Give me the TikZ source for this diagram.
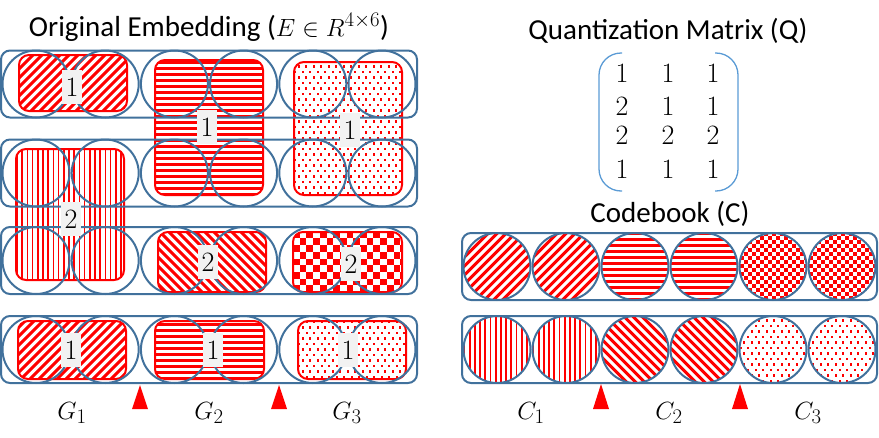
\documentclass[tikz,border=0pt]{standalone}
\usepackage{fontspec}
\usepackage{amsmath}
\newfontfamily\calib{Carlito}
\definecolor{blu}{HTML}{41719C}
\definecolor{brkcol}{HTML}{5B9BD5}
\definecolor{lblgray}{HTML}{F2F2F2}
\tikzset{
cell/.style={circle,draw=blu,line width=2pt,minimum size=67pt,inner sep=0pt},
rowbox/.style={draw=blu,line width=2pt,rounded corners=9pt,minimum height=67pt,inner sep=0pt},
blk/.style={draw=red,line width=2pt,rounded corners=10pt,inner sep=0pt},
idx/.style={fill=lblgray,inner sep=0pt,minimum width=20pt,minimum height=34pt,font=\fontsize{28}{28}\selectfont},
num/.style={anchor=base,inner sep=0pt,font=\fontsize{28}{28}\selectfont},
grp/.style={anchor=base,inner sep=0pt,font=\fontsize{28}{28}\selectfont},
ttl/.style={anchor=base,inner sep=0pt,font=\calib\fontsize{29}{29}\selectfont},
brk/.style={draw=brkcol,line width=1.3pt,rounded corners=22pt},
tri/.style={fill=red},
sq/.style={fill=red,sharp corners},
ne/.style={path picture={\foreach \i in {0,...,30}
  \draw[red,line width=3pt] ([xshift=\i*9pt-150pt]path picture bounding box.south west) -- ++(200pt,200pt);}},
nw/.style={path picture={\foreach \i in {0,...,30}
  \draw[red,line width=3pt] ([xshift=\i*9pt-10pt]path picture bounding box.south west) -- ++(-200pt,200pt);}},
hl/.style={path picture={\foreach \i in {0,...,24}
  \draw[red,line width=3pt] ([yshift=\i*6pt+1pt]path picture bounding box.south west) -- ++(200pt,0pt);}},
vl/.style={path picture={\foreach \i in {0,...,22}
  \draw[red,line width=1.7pt] ([xshift=\i*5.2pt+1pt]path picture bounding box.south west) -- ++(0pt,200pt);}},
dt/.style={path picture={\foreach \j in {0,2,...,24}\foreach \i in {0,...,15}{
  \path[sq] ([xshift=\i*7.5pt,yshift=\j*5.5pt+1pt]path picture bounding box.south west) rectangle ++(2.2pt,2.2pt);
  \path[sq] ([xshift=\i*7.5pt+3.75pt,yshift=\j*5.5pt+6.5pt]path picture bounding box.south west) rectangle ++(2.2pt,2.2pt);}}},
ck/.style={path picture={\foreach \j in {0,2,...,10}\foreach \i in {0,2,...,16}{
  \path[sq] ([xshift=\i*6.7pt,yshift=\j*6.7pt]path picture bounding box.south west) rectangle ++(6.7pt,6.7pt);
  \path[sq] ([xshift=\i*6.7pt+6.7pt,yshift=\j*6.7pt+6.7pt]path picture bounding box.south west) rectangle ++(6.7pt,6.7pt);}}},
sck/.style={path picture={\foreach \j in {0,2,...,18}\foreach \i in {0,2,...,18}{
  \path[sq] ([xshift=\i*4pt,yshift=\j*4pt]path picture bounding box.south west) rectangle ++(4pt,4pt);
  \path[sq] ([xshift=\i*4pt+4pt,yshift=\j*4pt+4pt]path picture bounding box.south west) rectangle ++(4pt,4pt);}}}
}
\begin{document}
\begin{tikzpicture}[x=1pt,y=-1pt]
\useasboundingbox (0,0) rectangle (879,437);
\node[ttl] (E) at (209,36) {Original Embedding ($E\in R^{4\times6}$)};
\node[ttl] (Q) at (668,39) {Quantization Matrix (Q)};
\node[ttl] (C) at (670,222) {Codebook (C)};
\node[blk,ne,minimum width=108pt,minimum height=56pt] (G1r1) at (73,83) {};
\node[blk,hl,minimum width=108pt,minimum height=135pt] (G2r12) at (209,127.5) {};
\node[blk,dt,minimum width=108pt,minimum height=133pt] (G3r12) at (348,128.5) {};
\node[blk,vl,minimum width=108pt,minimum height=131pt] (G1r23) at (70,214.5) {};
\node[blk,nw,minimum width=108pt,minimum height=60pt] (G2r3) at (212,262) {};
\node[blk,ck,minimum width=109pt,minimum height=60pt] (G3r3) at (347.5,262) {};
\node[blk,ne,minimum width=108pt,minimum height=58pt] (G1r4) at (72,350) {};
\node[blk,hl,minimum width=109pt,minimum height=58pt] (G2r4) at (209.5,350) {};
\node[blk,dt,minimum width=108pt,minimum height=58pt] (G3r4) at (352,350) {};
\foreach \r/\y in {1/84,2/173,3/260.5,4/349.5}{
\node[rowbox,minimum width=416pt] (row\r) at (209,\y) {};
\foreach \c in {1,...,6} \node[cell] (e\r\c) at (36+69.2*\c-69.2,\y) {};
}
\node[idx] (n1) at (72,87) {1};
\node[idx] (n2) at (207,127) {1};
\node[idx] (n3) at (350,130) {1};
\node[idx] (n4) at (71,219) {2};
\node[idx] (n5) at (208,262) {2};
\node[idx] (n6) at (351,264) {2};
\node[idx] (n7) at (71,350) {1};
\node[idx] (n8) at (213,350) {1};
\node[idx] (n9) at (348,350) {1};
\fill[tri] (132,409) -- (140,385) -- (148,409) -- cycle;
\fill[tri] (271,409) -- (279,385) -- (287,409) -- cycle;
\fill[tri] (593,409) -- (601,384) -- (609,409) -- cycle;
\fill[tri] (732,409) -- (740,384) -- (748,409) -- cycle;
\node[grp] (G1) at (72,419) {$G_1$};
\node[grp] (G2) at (209,419) {$G_2$};
\node[grp] (G3) at (347,419) {$G_3$};
\node[grp] (C1) at (531,419) {$C_1$};
\node[grp] (C2) at (669,419) {$C_2$};
\node[grp] (C3) at (808,419) {$C_3$};
\draw[brk] (622,53) -- (599,53) -- (599,191) -- (622,191);
\draw[brk] (715,53) -- (738,53) -- (738,191) -- (715,191);
\foreach \r/\y/\a/\b/\c in {1/82/1/1/1,2/115/2/1/1,3/144/2/2/2,4/178/1/1/1}{
\node[num] (q\r1) at (622,\y) {\a};
\node[num] (q\r2) at (668,\y) {\b};
\node[num] (q\r3) at (713,\y) {\c};
}
\node[rowbox,minimum width=415pt] (cb1) at (669.5,266.5) {};
\node[rowbox,minimum width=415pt] (cb2) at (669.5,349.5) {};
\foreach \c/\p in {1/ne,2/ne,3/hl,4/hl,5/sck,6/sck} \node[cell,\p] (k1\c) at (497+69*\c-69,266.5) {};
\foreach \c/\p in {1/vl,2/vl,3/nw,4/nw,5/dt,6/dt} \node[cell,\p] (k2\c) at (497+69*\c-69,349.5) {};
\end{tikzpicture}
\end{document}
